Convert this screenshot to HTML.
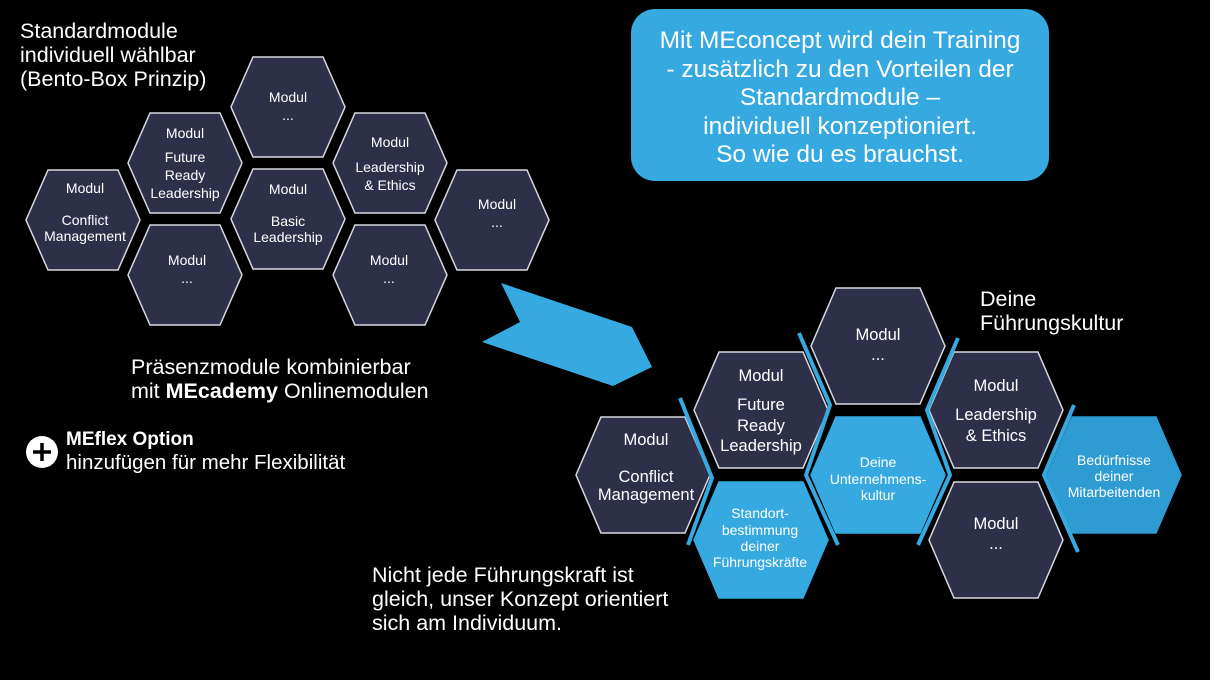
<!DOCTYPE html>
<html><head><meta charset="utf-8"><style>
html,body{margin:0;padding:0;background:#000;}
svg{display:block;font-family:"Liberation Sans",sans-serif;}
</style></head><body>
<svg width="1210" height="680" viewBox="0 0 1210 680" xmlns="http://www.w3.org/2000/svg">
<rect width="1210" height="680" fill="#000"/>
<defs>
<polygon id="h1" points="-35,-50 35,-50 57,0 35,50 -35,50 -57,0"/>
<polygon id="h2" points="-42,-58 42,-58 67,0 42,58 -42,58 -67,0"/>
</defs>
<g fill="#2e3049" stroke="#d8d8e0" stroke-width="1.5">
<use href="#h1" x="288" y="107"/>
<use href="#h1" x="185" y="163"/>
<use href="#h1" x="83" y="220"/>
<use href="#h1" x="288" y="219"/>
<use href="#h1" x="185" y="275"/>
<use href="#h1" x="390" y="163"/>
<use href="#h1" x="390" y="275"/>
<use href="#h1" x="492" y="220"/>
</g>
<g fill="#fff" font-size="14" text-anchor="middle">
<text x="288" y="102">Modul</text><text x="288" y="120">...</text>
<text x="185" y="138">Modul</text><text x="185" y="162">Future</text><text x="185" y="180">Ready</text><text x="185" y="198">Leadership</text>
<text x="85" y="193">Modul</text><text x="85" y="225">Conflict</text><text x="85" y="241">Management</text>
<text x="288" y="194">Modul</text><text x="288" y="226">Basic</text><text x="288" y="242">Leadership</text>
<text x="187" y="265">Modul</text><text x="187" y="283">...</text>
<text x="390" y="147">Modul</text><text x="390" y="172">Leadership</text><text x="390" y="190">&amp; Ethics</text>
<text x="389" y="265">Modul</text><text x="389" y="283">...</text>
<text x="497" y="209">Modul</text><text x="497" y="227">...</text>
</g>
<g fill="#fff" font-size="21.5">
<text x="20" y="38">Standardmodule</text>
<text x="20" y="62">individuell wählbar</text>
<text x="20" y="86">(Bento-Box Prinzip)</text>
<text x="131" y="374">Präsenzmodule kombinierbar</text>
<text x="131" y="398">mit <tspan font-weight="bold">MEcademy</tspan> Onlinemodulen</text>
<text x="66" y="445" font-weight="bold" font-size="19">MEflex Option</text>
<text x="66" y="469" font-size="20.5">hinzufügen für mehr Flexibilität</text>
<text x="372" y="582">Nicht jede Führungskraft ist</text>
<text x="372" y="606">gleich, unser Konzept orientiert</text>
<text x="372" y="630">sich am Individuum.</text>
<text x="980" y="306">Deine</text>
<text x="980" y="330">Führungskultur</text>
</g>
<circle cx="42" cy="452" r="16" fill="#fff"/>
<path d="M42 443v18M33 452h18" stroke="#000" stroke-width="3.5"/>
<rect x="631" y="9" width="418" height="172" rx="24" fill="#36a9e1"/>
<g fill="#fff" font-size="24.5" text-anchor="middle">
<text x="840" y="48">Mit MEconcept wird dein Training</text>
<text x="840" y="77">- zusätzlich zu den Vorteilen der</text>
<text x="840" y="105">Standardmodule –</text>
<text x="840" y="134">individuell konzeptioniert.</text>
<text x="840" y="162">So wie du es brauchst.</text>
</g>
<polygon points="501,283 632,327 652,367 613,386 482,342 520,322" fill="#36a9e1"/>
<g stroke="#d8d8e0" stroke-width="1.5">
<use href="#h2" x="878" y="346" fill="#2e3049"/>
<use href="#h2" x="761" y="410" fill="#2e3049"/>
<use href="#h2" x="643" y="475" fill="#2e3049"/>
<use href="#h2" x="761" y="540" fill="#36a9e1" stroke="#36a9e1"/>
<use href="#h2" x="878" y="475" fill="#36a9e1" stroke="#36a9e1"/>
<use href="#h2" x="996" y="410" fill="#2e3049"/>
<use href="#h2" x="996" y="540" fill="#2e3049"/>
<use href="#h2" x="1114" y="475" fill="#2e9bd2" stroke="#2e9bd2"/>
</g>
<g fill="none" stroke="#36a9e1" stroke-width="4">
<polyline points="680,398 712,478 688,545"/>
<polyline points="799,333 830,405 806,475 838,545"/>
<polyline points="958,338 927,410 950,475 918,545"/>
<polyline points="1074,405 1044,475 1078,552"/>
</g>
<g fill="#fff" font-size="16.5" text-anchor="middle">
<text x="878" y="340">Modul</text><text x="878" y="360">...</text>
<text x="761" y="381">Modul</text><text x="761" y="410">Future</text><text x="761" y="431">Ready</text><text x="761" y="451">Leadership</text>
<text x="646" y="445">Modul</text><text x="646" y="482">Conflict</text><text x="646" y="500">Management</text>
<text x="996" y="391">Modul</text><text x="996" y="420">Leadership</text><text x="996" y="441">&amp; Ethics</text>
<text x="996" y="529">Modul</text><text x="996" y="549">...</text>
</g>
<g fill="#fff" font-size="14" text-anchor="middle">
<text x="760" y="518">Standort-</text><text x="760" y="535">bestimmung</text><text x="760" y="551">deiner</text><text x="760" y="567">Führungskräfte</text>
<text x="878" y="467">Deine</text><text x="878" y="484">Unternehmens-</text><text x="878" y="500">kultur</text>
<text x="1114" y="465">Bedürfnisse</text><text x="1114" y="481">deiner</text><text x="1114" y="497">Mitarbeitenden</text>
</g>
</svg>
</body></html>
